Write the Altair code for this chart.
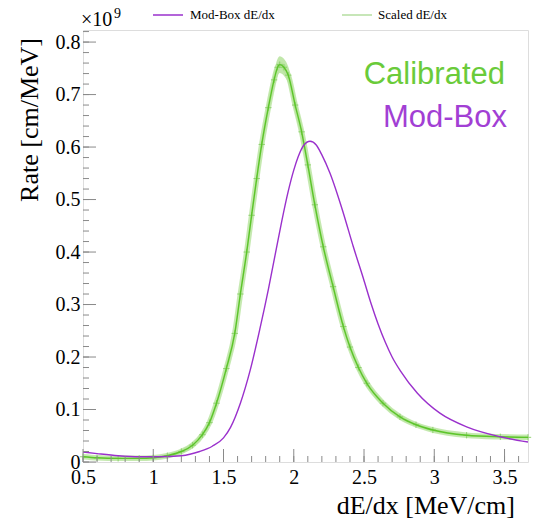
import altair as alt
import pandas as pd

# Mod-Box dE/dx (purple), rate in units of 1e9
modbox_x = [0.50, 0.60, 0.75, 0.90, 1.03, 1.20, 1.33, 1.42, 1.50, 1.55, 1.62, 1.69, 1.76, 1.82,
            1.867, 1.914, 1.96, 2.00, 2.032, 2.07, 2.116, 2.16, 2.20, 2.258, 2.353, 2.424, 2.495,
            2.55, 2.60, 2.65, 2.70, 2.76, 2.88, 3.04, 3.23, 3.47, 3.667]
modbox_y = [0.019, 0.016, 0.012, 0.010, 0.010, 0.012, 0.020, 0.030, 0.046, 0.066, 0.112, 0.175,
            0.255, 0.330, 0.394, 0.458, 0.515, 0.556, 0.582, 0.603, 0.611, 0.604, 0.585, 0.550,
            0.474, 0.410, 0.350, 0.302, 0.263, 0.229, 0.200, 0.173, 0.131, 0.093, 0.067, 0.048,
            0.038]

# Scaled (calibrated) dE/dx (green) with error estimates
cal_x = [0.50, 0.60, 0.75, 0.90, 1.00, 1.10, 1.20, 1.28, 1.35, 1.40, 1.45, 1.52, 1.58, 1.62,
         1.665, 1.70, 1.736, 1.772, 1.819, 1.86, 1.885, 1.90, 1.93, 1.961, 2.01, 2.056, 2.10,
         2.15, 2.21, 2.28, 2.353, 2.40, 2.46, 2.52, 2.635, 2.756, 2.87, 2.99, 3.23, 3.47, 3.667]
cal_y = [0.010, 0.008, 0.007, 0.007, 0.008, 0.012, 0.020, 0.032, 0.052, 0.075, 0.112, 0.178,
         0.245, 0.320, 0.400, 0.470, 0.540, 0.605, 0.675, 0.728, 0.752, 0.757, 0.752, 0.737,
         0.680, 0.629, 0.566, 0.490, 0.410, 0.334, 0.258, 0.219, 0.180, 0.150, 0.112, 0.086,
         0.071, 0.061, 0.051, 0.048, 0.047]
cal_err = [0.002, 0.002, 0.002, 0.002, 0.003, 0.003, 0.004, 0.005, 0.006, 0.007, 0.008, 0.010,
           0.011, 0.012, 0.013, 0.014, 0.014, 0.015, 0.015, 0.016, 0.016, 0.016, 0.016, 0.016,
           0.015, 0.015, 0.014, 0.013, 0.012, 0.011, 0.009, 0.008, 0.007, 0.006, 0.005, 0.004,
           0.003, 0.003, 0.002, 0.002, 0.002]

x_major = [0.5, 1.0, 1.5, 2.0, 2.5, 3.0, 3.5]
x_minor = [round(0.5 + 0.1 * i, 2) for i in range(32)]
y_major = [0.0, 0.1, 0.2, 0.3, 0.4, 0.5, 0.6, 0.7, 0.8]
y_minor = [round(0.02 * i, 2) for i in range(42)]

W, H = 445, 432
XDOM = [0.5, 3.667]
YDOM = [0.0, 0.823]
PURPLE = "#9a30cc"
GREEN = "#5cc52a"
BAND = "#b6e39c"
FRAME = "#8a8a8a"
SERIF = "Liberation Serif"
SANS = "Liberation Sans"

xs = alt.Scale(domain=XDOM, nice=False, zero=False)
ys = alt.Scale(domain=YDOM, nice=False, zero=False)

mod_df = pd.DataFrame({"x": modbox_x, "y": modbox_y})
cal_df = pd.DataFrame({"x": cal_x, "y": cal_y, "err": cal_err})
cal_df["lo"] = cal_df["y"] - cal_df["err"]
cal_df["hi"] = cal_df["y"] + cal_df["err"]

x_axis = alt.Axis(values=x_major, labelExpr="'' + datum.value", ticks=False, domain=False,
                  grid=False, labelFont=SERIF, labelFontSize=20, labelColor="black",
                  labelPadding=5, title=None, labelFlush=False)
y_axis = alt.Axis(values=y_major, ticks=False, domain=False, grid=False,
                  labelExpr="datum.value == 0 ? '0' : format(datum.value, '.1f')",
                  labelFont=SERIF, labelFontSize=20, labelColor="black", labelPadding=3,
                  title=None, labelFlush=False)

band = alt.Chart(cal_df).mark_area(color=BAND, opacity=0.85, interpolate="monotone").encode(
    x=alt.X("x:Q", scale=xs, axis=x_axis),
    y=alt.Y("lo:Q", scale=ys, axis=y_axis),
    y2="hi:Q",
)
cal_wide = alt.Chart(cal_df).mark_line(color=BAND, strokeWidth=5.5, opacity=0.8,
                                       interpolate="monotone").encode(
    x=alt.X("x:Q", scale=xs), y=alt.Y("y:Q", scale=ys))
cal_pts = alt.Chart(cal_df).mark_point(shape="M-1,0L1,0M0,-1L0,1", size=40, filled=False,
                                       strokeWidth=1, color="#88d066", opacity=0.9).encode(
    x=alt.X("x:Q", scale=xs), y=alt.Y("y:Q", scale=ys))
cal_line = alt.Chart(cal_df).mark_line(color=GREEN, strokeWidth=1.4, interpolate="monotone").encode(
    x=alt.X("x:Q", scale=xs), y=alt.Y("y:Q", scale=ys))
mod_line = alt.Chart(mod_df).mark_line(color=PURPLE, strokeWidth=1.4, interpolate="monotone").encode(
    x=alt.X("x:Q", scale=xs), y=alt.Y("y:Q", scale=ys))

def xticks(vals, length):
    return alt.Chart(pd.DataFrame({"t": vals})).mark_rule(color=FRAME, strokeWidth=1).encode(
        x=alt.X("t:Q", scale=xs), y=alt.value(H), y2=alt.value(H - length))

def yticks(vals, length):
    return alt.Chart(pd.DataFrame({"t": vals})).mark_rule(color=FRAME, strokeWidth=1).encode(
        y=alt.Y("t:Q", scale=ys), x=alt.value(0), x2=alt.value(length))

def text(t, x, y, size, color="black", font=SERIF, align="left", baseline="alphabetic", angle=None):
    kw = dict(text=t, fontSize=size, color=color, font=font, align=align, baseline=baseline)
    if angle is not None:
        kw["angle"] = angle
    return alt.Chart(pd.DataFrame({"a": [0]})).mark_text(**kw).encode(
        x=alt.value(x), y=alt.value(y))

def legline(x1, x2, y, color):
    return alt.Chart(pd.DataFrame({"a": [0]})).mark_rule(color=color, strokeWidth=1.5).encode(
        x=alt.value(x1), x2=alt.value(x2), y=alt.value(y))

layers = [
    band, cal_wide, cal_pts, cal_line, mod_line,
    xticks(x_minor, 6), xticks(x_major, 13),
    yticks(y_minor, 6), yticks(y_major, 13),
    text("×10", -2, -4, 20),
    text("9", 31, -12, 14),
    legline(70, 100, -15, PURPLE),
    text("Mod-Box dE/dx", 107, -15, 13, baseline="middle"),
    legline(259, 289, -15, "#b5dea0"),
    text("Scaled dE/dx", 295, -15, 13, baseline="middle"),
    text("Calibrated", 422, 54, 31, color="#6acb3a", font=SANS, align="right"),
    text("Mod-Box", 424, 97, 31, color="#a23fd4", font=SANS, align="right"),
    text("dE/dx [MeV/cm]", 432, 484, 26, align="right"),
    text("Rate [cm/MeV]", -53, 8, 26, align="right", baseline="middle", angle=270),
]

chart = alt.layer(*layers).properties(
    width=W, height=H,
    autosize=alt.AutoSizeParams(type="none"),
    padding={"left": 83, "top": 30, "right": 5, "bottom": 59},
).configure_view(stroke=FRAME, strokeWidth=1).configure(background="white")

chart.save("out.html", embed_options={"renderer": "svg", "actions": False})
